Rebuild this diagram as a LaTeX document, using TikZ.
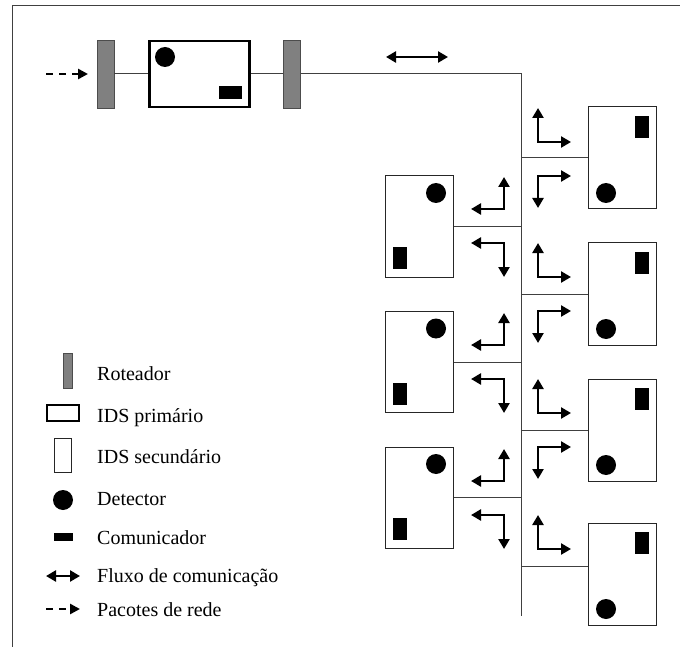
\documentclass[tikz,border=0pt]{standalone}
\usepackage{fontspec}
\setmainfont{Liberation Serif}
\usetikzlibrary{arrows.meta}
\definecolor{routergray}{RGB}{128,128,128}
\begin{document}
\begin{tikzpicture}[x=1pt,y=-1pt,
  frame/.style={draw=black!75,line width=1pt},
  wire/.style={draw=black!75,line width=1pt},
  router/.style={rectangle,draw=black!70,fill=routergray,line width=0.8pt,inner sep=0pt,minimum width=17pt,minimum height=68pt},
  prim/.style={rectangle,draw=black,line width=2.8pt,inner sep=0pt,minimum width=100pt,minimum height=66pt},
  sec/.style={rectangle,draw=black!85,line width=1pt,inner sep=0pt,minimum width=68pt,minimum height=101pt},
  det/.style={circle,fill=black,inner sep=0pt,minimum size=20pt},
  comv/.style={rectangle,fill=black,inner sep=0pt,minimum width=14pt,minimum height=22pt},
  comh/.style={rectangle,fill=black,inner sep=0pt,minimum width=23pt,minimum height=13pt},
  flow/.style={draw=black,line width=2.6pt,{Triangle[length=10pt,width=11pt]}-{Triangle[length=10pt,width=11pt]}},
  packet/.style={draw=black,line width=2.6pt,dash pattern=on 7pt off 6pt,-{Triangle[length=10pt,width=10pt]}},
  legtext/.style={anchor=base west,inner sep=0pt,font=\fontsize{20}{24}\selectfont}
]
\useasboundingbox (0,0) rectangle (680,647);
\draw[frame] (680,6) -- (12,6) -- (12,647);

% ---- top chain
\coordinate (din) at (46,74);
\coordinate (dend) at (88,74);
\node[router] (r1) at (105.5,74) {};
\node[prim] (ids) at (199.5,74) {};
\node[det] (idsd) at (165,57) {};
\node[comh] (idsc) at (230.5,92.5) {};
\node[router] (r2) at (292,74) {};
\coordinate (bt) at (521,74);
\coordinate (bb) at (521,616);
\draw[packet] (din) -- (dend);
\draw[wire] (r1) -- (ids);
\draw[wire] (ids) -- (r2);
\draw[wire] (r2) -- (bt) -- (bb);
\coordinate (fa) at (386,57);
\coordinate (fb) at (448,57);
\draw[flow] (fa) -- (fb);

% ---- right secondary IDS
\foreach \n/\cy in {1/158,2/294,3/430,4/574}{
  \node[sec,minimum height=102pt] (rb\n) at (622.5,\cy) {};
  \node[det] (rbd\n) at ([shift={(-16.5,35)}]rb\n.center) {};
  \node[comv] (rbc\n) at ([shift={(19.5,-31)}]rb\n.center) {};
}
\foreach \n in {1,2,3}{
  \draw[wire] (rb\n.west) -- (rb\n.west -| bt);
}
\coordinate (rb4in) at ([yshift=8pt]rb4.west);
\draw[wire] (rb4in) -- (rb4in -| bt);

% ---- left secondary IDS
\foreach \n/\cy in {1/226.5,2/362,3/497.5}{
  \node[sec] (lb\n) at (419,\cy) {};
  \node[det] (lbd\n) at ([shift={(17,-33.5)}]lb\n.center) {};
  \node[comv] (lbc\n) at ([shift={(-19,31.5)}]lb\n.center) {};
  \draw[wire] (lb\n.east) -- (lb\n.east -| bt);
}

% ---- L-shaped flow arrows, right side
\foreach \L in {159,294,430,566}{
  \draw[flow] (538,{\L-51}) -- (538,{\L-17}) -- (571,{\L-17});
}
\foreach \L in {159,294,430}{
  \draw[flow] (571,{\L+17}) -- (538,{\L+17}) -- (538,{\L+49});
}
% ---- L-shaped flow arrows, left side
\foreach \L in {226,362,498}{
  \draw[flow] (504,{\L-49}) -- (504,{\L-17}) -- (471,{\L-17});
  \draw[flow] (471,{\L+17}) -- (504,{\L+17}) -- (504,{\L+51});
}

% ---- legend
\node[router,minimum width=9pt,minimum height=35pt] (lg1) at (67.5,370.5) {};
\node[legtext] (lt1) at (97,380) {Roteador};
\node[prim,line width=2.4pt,minimum width=32pt,minimum height=16pt] (lg2) at (63,413) {};
\node[legtext] (lt2) at (97,422) {IDS primário};
\node[sec,minimum width=17pt,minimum height=34pt] (lg3) at (62.5,455) {};
\node[legtext] (lt3) at (97,463) {IDS secundário};
\node[det] (lg4) at (63,500) {};
\node[legtext] (lt4) at (97,505) {Detector};
\node[rectangle,fill=black,inner sep=0pt,minimum width=19pt,minimum height=8pt] (lg5) at (63,537) {};
\node[legtext] (lt5) at (97,544) {Comunicador};
\coordinate (lg6a) at (46,576);
\coordinate (lg6b) at (80,576);
\draw[flow] (lg6a) -- (lg6b);
\node[legtext] (lt6) at (97,582) {Fluxo de comunicação};
\coordinate (lg7a) at (46,609);
\coordinate (lg7b) at (80,609);
\draw[packet] (lg7a) -- (lg7b);
\node[legtext] (lt7) at (97,616) {Pacotes de rede};
\end{tikzpicture}
\end{document}
